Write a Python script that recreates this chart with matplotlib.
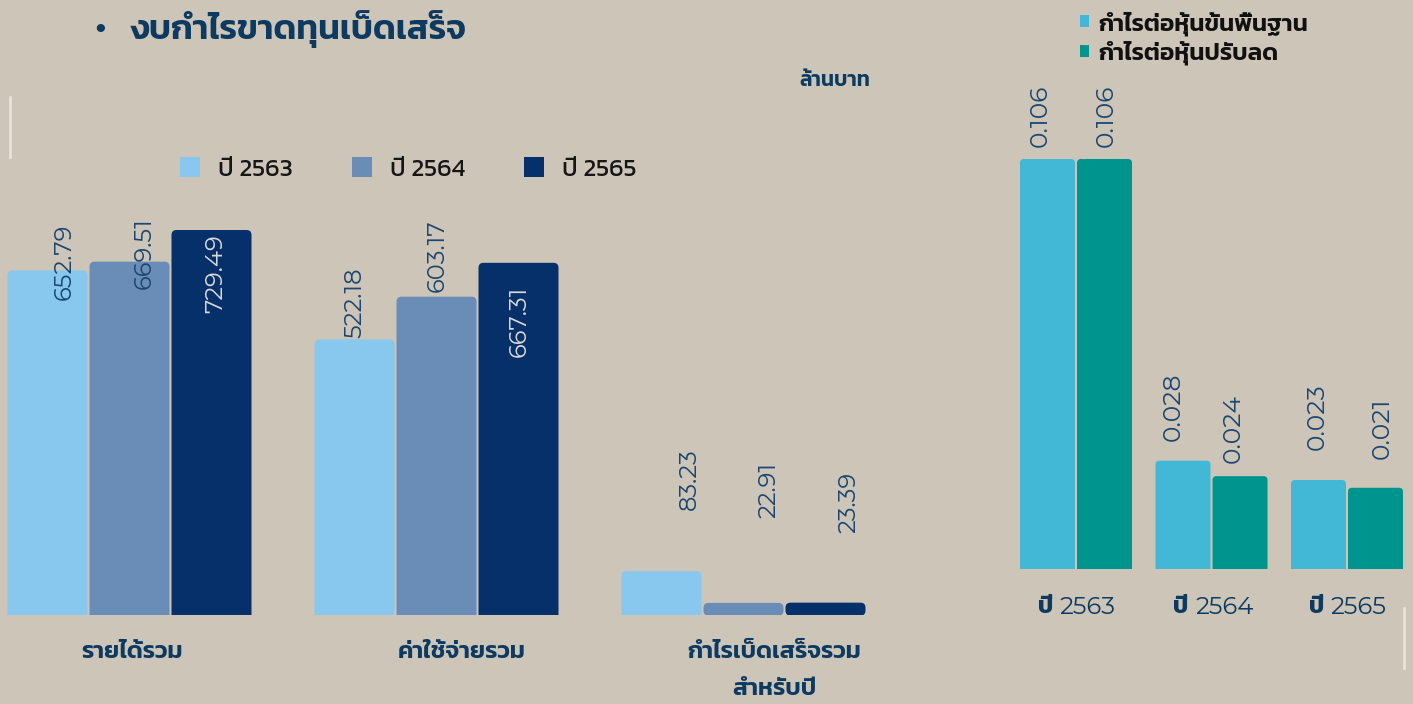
import numpy as np
import matplotlib
matplotlib.use("Agg")
import matplotlib.pyplot as plt
from matplotlib.patches import FancyBboxPatch, Patch
from matplotlib.lines import Line2D

# ข้อมูลงบกำไรขาดทุน (ล้านบาท)
categories = ["รายได้รวม", "ค่าใช้จ่ายรวม", "กำไรเบ็ดเสร็จรวม\nสำหรับปี"]
years = ["ปี 2563", "ปี 2564", "ปี 2565"]
v2563 = [652.79, 522.18, 83.23]
v2564 = [669.51, 603.17, 22.91]
v2565 = [729.49, 667.31, 23.39]

# กำไรต่อหุ้น (บาท)
eps_years = ["2563", "2564", "2565"]
eps_basic = [0.106, 0.028, 0.023]
eps_diluted = [0.106, 0.024, 0.021]

BG = "#cdc5b8"
NAVY = "#0c3a60"
bar_colors = ["#88c8ee", "#6a8db8", "#06306a"]
eps_colors = ["#42b7d6", "#00948f"]
NUM = ["Montserrat Alternates", "Kanit", "DejaVu Sans"]
THAI = ["Kanit", "DejaVu Sans"]

# ตำแหน่งป้ายตัวเลข (px) ที่จัดวางเองบนสไลด์
nudge_left = [[(17, -30), (0, 1), (28, 61)],
              [(15, -27), (1, 5), (26, 85)],
              [(4, -83), (1, -94), (24, 70)]]
nudge_right = [[(-7, 12), (-10, 20), (-1, 30)],
               [(2, 12), (-7, 13), (7, 29)]]
cat_shift = [2, 25, 31]


def rect_px_width(ax, w):
    x0 = ax.transData.transform((0, 0))[0]
    x1 = ax.transData.transform((w, 0))[0]
    return x1 - x0


def round_top(ax, bars, radius_px, aspect):
    # แทนแท่งเดิมด้วยแท่งมุมบนโค้ง (ส่วนล่างถูกตัดที่แกน)
    for rect in list(bars):
        c = rect.get_facecolor()
        x, w, h = rect.get_x(), rect.get_width(), rect.get_height()
        r = radius_px * w / rect_px_width(ax, w)
        p = FancyBboxPatch((x, -h * 0.05), w, h * 1.05,
                           boxstyle=f"round,pad=0,rounding_size={r}",
                           mutation_aspect=aspect, facecolor=c,
                           edgecolor="none", clip_on=True)
        ax.add_patch(p)
        rect.remove()


fig = plt.figure(figsize=(14.13, 7.04), dpi=100, facecolor=BG)
W, H = 1413, 704

# ---- กราฟซ้าย ----
axL = fig.add_axes([0, 89 / H, 880 / W, 515 / H])
axL.set_facecolor("none")
sp = 307.0
axL.set_xlim(-129.5 / sp, -129.5 / sp + 880 / sp)
ytop = 729.49 * 515 / 385
axL.set_ylim(0, ytop)
x = np.arange(len(categories))
step, bw = 82 / sp, 80 / sp
series = [v2563, v2564, v2565]
aspectL = (ytop / 515) / (1 / sp)
for i, vals in enumerate(series):
    xs = x + (i - 1) * step
    bars = axL.bar(xs, vals, bw, color=bar_colors[i])
    round_top(axL, bars, 5, aspectL)
    for j, v in enumerate(vals):
        dx, dy = nudge_left[i][j]
        inside = dy < -50
        axL.annotate(f"{v:.2f}", (xs[j], v), xytext=(dx, dy),
                     textcoords="offset pixels", rotation=90,
                     ha="center", va="bottom", fontsize=17.5,
                     family=NUM, color="#d9d9d9" if inside else "#1a4670")
for j, cat in enumerate(categories):
    axL.annotate(cat, (x[j], 0), xytext=(cat_shift[j], -26),
                 textcoords="offset pixels", ha="center", va="top",
                 fontsize=17.5, family=THAI, weight="semibold",
                 color=NAVY, linespacing=1.9)
axL.axis("off")

# ---- กราฟขวา ----
axR = fig.add_axes([1000 / W, 135 / H, 413 / W, 509 / H])
axR.set_facecolor("none")
spR = 135.5
axR.set_xlim(-76 / spR, -76 / spR + 413 / spR)
ytopR = 0.106 * 509 / 410
axR.set_ylim(0, ytopR)
xr = np.arange(len(eps_years))
stepR, bwR = 57 / spR, 55 / spR
aspectR = (ytopR / 509) / (1 / spR)
for i, vals in enumerate([eps_basic, eps_diluted]):
    xs = xr + (i - 0.5) * stepR
    bars = axR.bar(xs, vals, bwR, color=eps_colors[i])
    round_top(axR, bars, 4, aspectR)
    for j, v in enumerate(vals):
        dx, dy = nudge_right[i][j]
        axR.annotate(f"{v:.3f}", (xs[j], v), xytext=(dx, dy),
                     textcoords="offset pixels", rotation=90,
                     ha="center", va="bottom", fontsize=18,
                     family=NUM, color="#1a4670")
for j, yr in enumerate(eps_years):
    axR.annotate("ปี", (xr[j], 0), xytext=(-23, -38), textcoords="offset pixels",
                 ha="right", va="center", fontsize=17, family=THAI,
                 weight="bold", color=NAVY)
    axR.annotate(yr, (xr[j], 0), xytext=(-16, -38), textcoords="offset pixels",
                 ha="left", va="center", fontsize=17.5, family=NUM, color=NAVY)
axR.axis("off")

# ---- คำอธิบายสัญลักษณ์ ----
hL = [Patch(facecolor=c, edgecolor="none") for c in bar_colors]
fig.legend(hL, years, loc="center", bbox_to_anchor=(408 / W, 1 - 169 / H),
           ncol=3, frameon=False, prop={"family": THAI, "weight": "normal", "size": 18},
           handlelength=0.8, handleheight=0.8, handletextpad=0.72,
           columnspacing=2.36, labelcolor="#161616")

hR = [Patch(facecolor=c, edgecolor="none") for c in eps_colors]
fig.legend(hR, ["กำไรต่อหุ้นขั้นพื้นฐาน", "กำไรต่อหุ้นปรับลด"], loc="upper left",
           bbox_to_anchor=(1063 / W, 1 + 6 / H), frameon=False,
           prop={"family": THAI, "weight": "semibold", "size": 17.5},
           handlelength=0.38, handleheight=0.38, handletextpad=0.38,
           labelspacing=0.2, labelcolor="#111111", borderpad=0.2)

# ---- หัวเรื่อง ----
fig.text(95 / W, 1 - 29 / H, "•", fontsize=22, color=NAVY, va="center",
         family=THAI, weight="bold")
fig.text(130 / W, 1 - 29 / H, "งบกำไรขาดทุนเบ็ดเสร็จ", fontsize=25,
         color=NAVY, va="center", family=THAI, weight="semibold")
fig.text(870 / W, 1 - 81 / H, "ล้านบาท", fontsize=15, color=NAVY,
         va="center", ha="right", family=THAI, weight="semibold")

# เส้นตกแต่งแนวตั้ง
for xp, y0, y1 in [(10, 97, 157), (1404, 608, 668)]:
    fig.add_artist(Line2D([xp / W, xp / W], [1 - y0 / H, 1 - y1 / H],
                          color="#ebe7df", lw=1.8, transform=fig.transFigure))

fig.savefig("out.png", dpi=100, facecolor=BG)
